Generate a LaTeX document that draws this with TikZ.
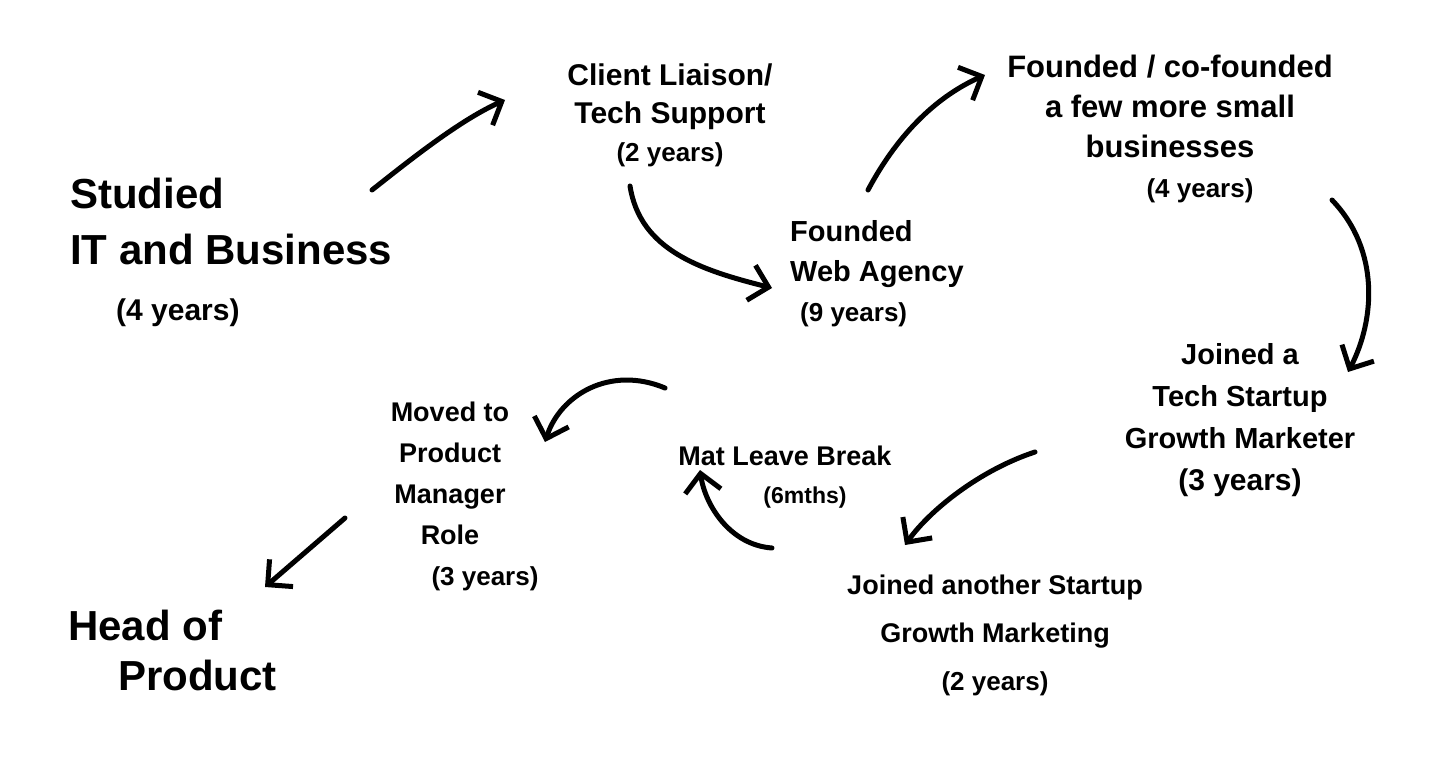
\documentclass[tikz,border=0pt]{standalone}
\usepackage{fontspec}
\setmainfont{Liberation Sans}
\usetikzlibrary{arrows.meta}
\tikzset{
  lbl/.style={align=center, inner sep=0pt, text=black},
  lbll/.style={align=left, inner sep=0pt, text=black},
  flow/.style={line width=5pt, line cap=round, line join=round,
    -{Straight Barb[length=18pt,width=36pt,line width=5pt]}}
}
\begin{document}
\begin{tikzpicture}[x=1pt,y=-1pt]
\useasboundingbox[fill=white] (0,0) rectangle (1456,781);

\node[lbll, anchor=north west, font=\bfseries\fontsize{42}{56}\selectfont] (studied) at (70,178)
  {Studied\\IT and Business\\\hspace{46pt}\fontsize{30}{40}\selectfont(4 years)};

\node[lbl, anchor=north, font=\bfseries\fontsize{30}{38}\selectfont] (client) at (670,64)
  {Client Liaison/\\Tech Support\\\fontsize{26}{38}\selectfont(2 years)};

\node[lbll, anchor=north west, font=\bfseries\fontsize{29}{40}\selectfont] (web) at (790,220)
  {Founded\\Web Agency\\\hspace{10pt}\fontsize{26}{40}\selectfont(9 years)};

\node[lbl, anchor=north, font=\bfseries\fontsize{31}{40}\selectfont] (cofound) at (1170,55)
  {Founded / co-founded\\a few more small\\businesses\\\hspace{60pt}\fontsize{26}{38}\selectfont(4 years)};

\node[lbl, anchor=north, font=\bfseries\fontsize{29}{42}\selectfont] (tech) at (1240,343)
  {Joined a\\Tech Startup\\Growth Marketer\\\fontsize{30}{45}\selectfont(3 years)};

\node[lbl, anchor=north, font=\bfseries\fontsize{27}{48}\selectfont] (another) at (995,575)
  {Joined another Startup\\Growth Marketing\\\fontsize{26}{42}\selectfont(2 years)};

\node[lbl, anchor=north, font=\bfseries\fontsize{27}{38}\selectfont] (mat) at (785,446)
  {Mat Leave Break\\\hspace{40pt}\fontsize{23}{38}\selectfont(6mths)};

\node[lbl, anchor=north, font=\bfseries\fontsize{27}{41}\selectfont] (moved) at (450,402)
  {Moved to\\Product\\Manager\\Role\\\hspace{70pt}\fontsize{26}{42}\selectfont(3 years)};

\node[lbll, anchor=north west, font=\bfseries\fontsize{42}{50}\selectfont] (head) at (68,610)
  {Head of\\\hspace{50pt}Product};

\coordinate (a1s) at (372,190); \coordinate (a1e) at (505,100);
\coordinate (a2s) at (630,186); \coordinate (a2e) at (772,288);
\coordinate (a3s) at (868,190); \coordinate (a3e) at (985,75);
\coordinate (a4s) at (1332,200); \coordinate (a4e) at (1348,372);
\coordinate (a5s) at (1035,452); \coordinate (a5e) at (905,545);
\coordinate (a6s) at (772,548); \coordinate (a6e) at (700,470);
\coordinate (a7s) at (665,388); \coordinate (a7e) at (545,442);
\coordinate (a8s) at (345,518); \coordinate (a8e) at (265,587);

\draw[flow] (a1s) .. controls (410,160) and (460,120) .. (a1e);
\draw[flow] (a2s) .. controls (640,250) and (700,270) .. (a2e);
\draw[flow] (a3s) .. controls (900,130) and (940,95) .. (a3e);
\draw[flow] (a4s) .. controls (1380,250) and (1375,320) .. (a4e);
\draw[flow] (a5s) .. controls (980,470) and (930,510) .. (a5e);
\draw[flow] (a6s) .. controls (730,545) and (705,505) .. (a6e);
\draw[flow] (a7s) .. controls (610,365) and (560,395) .. (a7e);
\draw[flow] (a8s) -- (a8e);
\end{tikzpicture}
\end{document}
